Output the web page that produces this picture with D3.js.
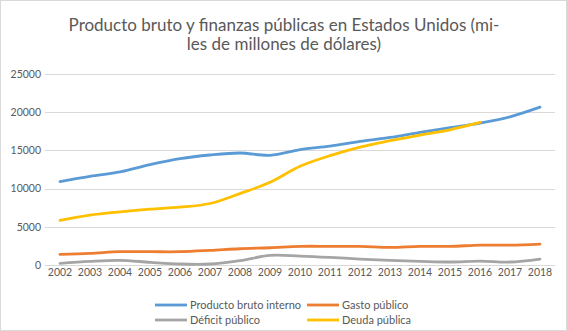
<!DOCTYPE html>
<html>
<head>
<meta charset="utf-8">
<script src="https://cdn.jsdelivr.net/npm/d3@7"></script>
<style>
  body { margin: 0; background: #fff; }
  text { font-family: Lato, "Open Sans", sans-serif; fill: #595959; }
</style>
</head>
<body>
<svg id="chart"></svg>
<script>
// datos (miles de millones de dólares)
const years = [2002, 2003, 2004, 2005, 2006, 2007, 2008, 2009, 2010, 2011, 2012, 2013, 2014, 2015, 2016, 2017, 2018];
const pib     = [10920, 11610, 12180, 13140, 13920, 14400, 14660, 14360, 15100, 15570, 16180, 16700, 17360, 17970, 18570, 19400, 20660];
const gasto   = [1390, 1520, 1740, 1740, 1740, 1910, 2130, 2260, 2440, 2440, 2440, 2300, 2440, 2440, 2600, 2600, 2740];
const deficit = [220, 480, 610, 350, 130, 130, 570, 1260, 1170, 1000, 780, 610, 480, 390, 520, 390, 780];
const deuda   = [5830, 6530, 6960, 7310, 7570, 8050, 9350, 10830, 12920, 14310, 15440, 16270, 17010, 17700, 18660];
const yTicks = [0, 5000, 10000, 15000, 20000, 25000];

const seriesNames = ["Producto bruto interno", "Gasto público", "Déficit público", "Deuda pública"];
const colors = ["#5B9BD5", "#ED7D31", "#A5A5A5", "#FFC000"];
const seriesValues = [pib, gasto, deficit, deuda];

const width = 567, height = 331;
const margin = { top: 74, right: 12, bottom: 66, left: 45 };

const svg = d3.select("#chart")
    .attr("width", width)
    .attr("height", height);

svg.append("rect")
    .attr("x", 0.5).attr("y", 0.5)
    .attr("width", width - 1).attr("height", height - 1)
    .attr("fill", "#fff")
    .attr("stroke", "#d9d9d9");

// título
const title = svg.append("text")
    .attr("text-anchor", "middle")
    .style("font-size", "17px");
title.append("tspan").attr("x", 284).attr("y", 31)
    .text("Producto bruto y finanzas públicas en Estados Unidos (mi-");
title.append("tspan").attr("x", 284).attr("y", 50)
    .text("les de millones de dólares)");

const x = d3.scaleBand()
    .domain(years)
    .range([margin.left, width - margin.right]);

const y = d3.scaleLinear()
    .domain([0, 25000])
    .range([height - margin.bottom, margin.top]);

// rejilla
svg.append("g")
    .selectAll("line")
    .data(yTicks)
    .enter().append("line")
    .attr("x1", margin.left)
    .attr("x2", width - margin.right)
    .attr("y1", d => Math.round(y(d)) + 0.5)
    .attr("y2", d => Math.round(y(d)) + 0.5)
    .attr("stroke", "#d9d9d9")
    .attr("stroke-width", 1);

// eje Y
const gY = svg.append("g")
    .attr("transform", `translate(${margin.left - 4},0)`)
    .call(d3.axisLeft(y).tickValues(yTicks).tickSize(0).tickPadding(0).tickFormat(d3.format("d")));
gY.select(".domain").remove();
gY.selectAll("text").style("font-size", "10.5px").attr("fill", "#595959");

// eje X
const gX = svg.append("g")
    .attr("transform", `translate(0,${height - margin.bottom})`)
    .call(d3.axisBottom(x).tickSize(0).tickPadding(4));
gX.select(".domain").remove();
gX.selectAll("text").style("font-size", "10.5px").attr("fill", "#595959");

// líneas
const line = d3.line()
    .x((d, i) => x(years[i]) + x.bandwidth() / 2)
    .y(d => y(d))
    .curve(d3.curveCatmullRom.alpha(0.5));

svg.append("g")
    .selectAll("path")
    .data(seriesValues)
    .enter().append("path")
    .attr("d", d => line(d))
    .attr("fill", "none")
    .attr("stroke", (d, i) => colors[i])
    .attr("stroke-width", 2.8)
    .attr("stroke-linecap", "round");

// leyenda
const legendPos = [[155, 305], [307, 305], [155, 320], [307, 320]];
const legend = svg.append("g")
    .selectAll("g")
    .data(seriesNames)
    .enter().append("g")
    .attr("transform", (d, i) => `translate(${legendPos[i][0]},${legendPos[i][1]})`);
legend.append("line")
    .attr("x1", 0).attr("x2", 32)
    .attr("y1", 0).attr("y2", 0)
    .attr("stroke", (d, i) => colors[i])
    .attr("stroke-width", 2.8);
legend.append("text")
    .attr("x", 35)
    .attr("y", 4)
    .style("font-size", "11px")
    .text(d => d);
</script>
</body>
</html>
